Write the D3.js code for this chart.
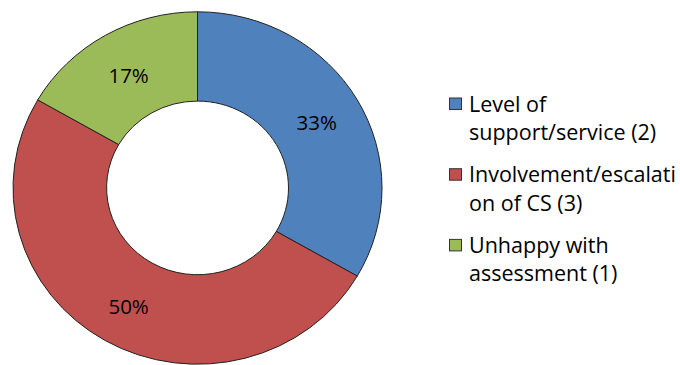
<!DOCTYPE html>
<html>
<head>
<meta charset="utf-8">
<script src="https://cdn.jsdelivr.net/npm/d3@7"></script>
<style>
  html, body { margin: 0; padding: 0; background: #fff; }
  svg { display: block; font-family: "Open Sans", "Noto Sans", sans-serif; }
</style>
</head>
<body>
<svg id="chart" width="680" height="365"></svg>
<script>
// Reasons for complaint, with counts
const categories = ["Level of support/service (2)", "Involvement/escalation of CS (3)", "Unhappy with assessment (1)"];
const legendLines = [
  ["Level of", "support/service (2)"],
  ["Involvement/escalati", "on of CS (3)"],
  ["Unhappy with", "assessment (1)"]
];
const counts = [2, 3, 1];
const colors = ["#4F81BD", "#C0504D", "#9BBB59"];

const svg = d3.select("#chart");
const cx = 197.5, cy = 188;
const outerR = 184.5, innerR = 91;
const squash = 0.955;

const total = d3.sum(counts);
const pie = d3.pie().sort(null).value(d => d)(counts);
const arc = d3.arc().innerRadius(innerR).outerRadius(outerR);

const ring = svg.append("g")
  .attr("transform", `translate(${cx},${cy}) scale(1,${squash})`);

ring.selectAll("path")
  .data(pie)
  .join("path")
  .attr("d", arc)
  .attr("fill", (d, i) => colors[i])
  .attr("stroke", "#222")
  .attr("stroke-width", 1)
  .attr("vector-effect", "non-scaling-stroke");

// Percentage labels near each slice centroid
const fmt = d3.format(".0%");
const nudgeY = [0, 4, 1];
svg.append("g")
  .selectAll("text")
  .data(pie)
  .join("text")
  .attr("x", d => cx + arc.centroid(d)[0])
  .attr("y", (d, i) => cy + arc.centroid(d)[1] * squash + nudgeY[i])
  .attr("text-anchor", "middle")
  .attr("dominant-baseline", "central")
  .attr("font-size", 20.5)
  .attr("fill", "#000")
  .text(d => fmt(d.value / total));

// Legend
const legend = svg.append("g");
const item = legend.selectAll("g")
  .data(categories)
  .join("g")
  .attr("transform", (d, i) => `translate(449,${111.5 + i * 70.7})`);

item.append("rect")
  .attr("x", 0.5)
  .attr("y", -13.5)
  .attr("width", 12)
  .attr("height", 11.5)
  .attr("fill", (d, i) => colors[i])
  .attr("stroke", "#333")
  .attr("stroke-width", 1);

item.append("text")
  .attr("font-size", 21.5)
  .attr("fill", "#000")
  .selectAll("tspan")
  .data((d, i) => legendLines[i])
  .join("tspan")
  .attr("x", 20)
  .attr("y", (d, j) => j * 28.5)
  .text(d => d);
</script>
</body>
</html>
